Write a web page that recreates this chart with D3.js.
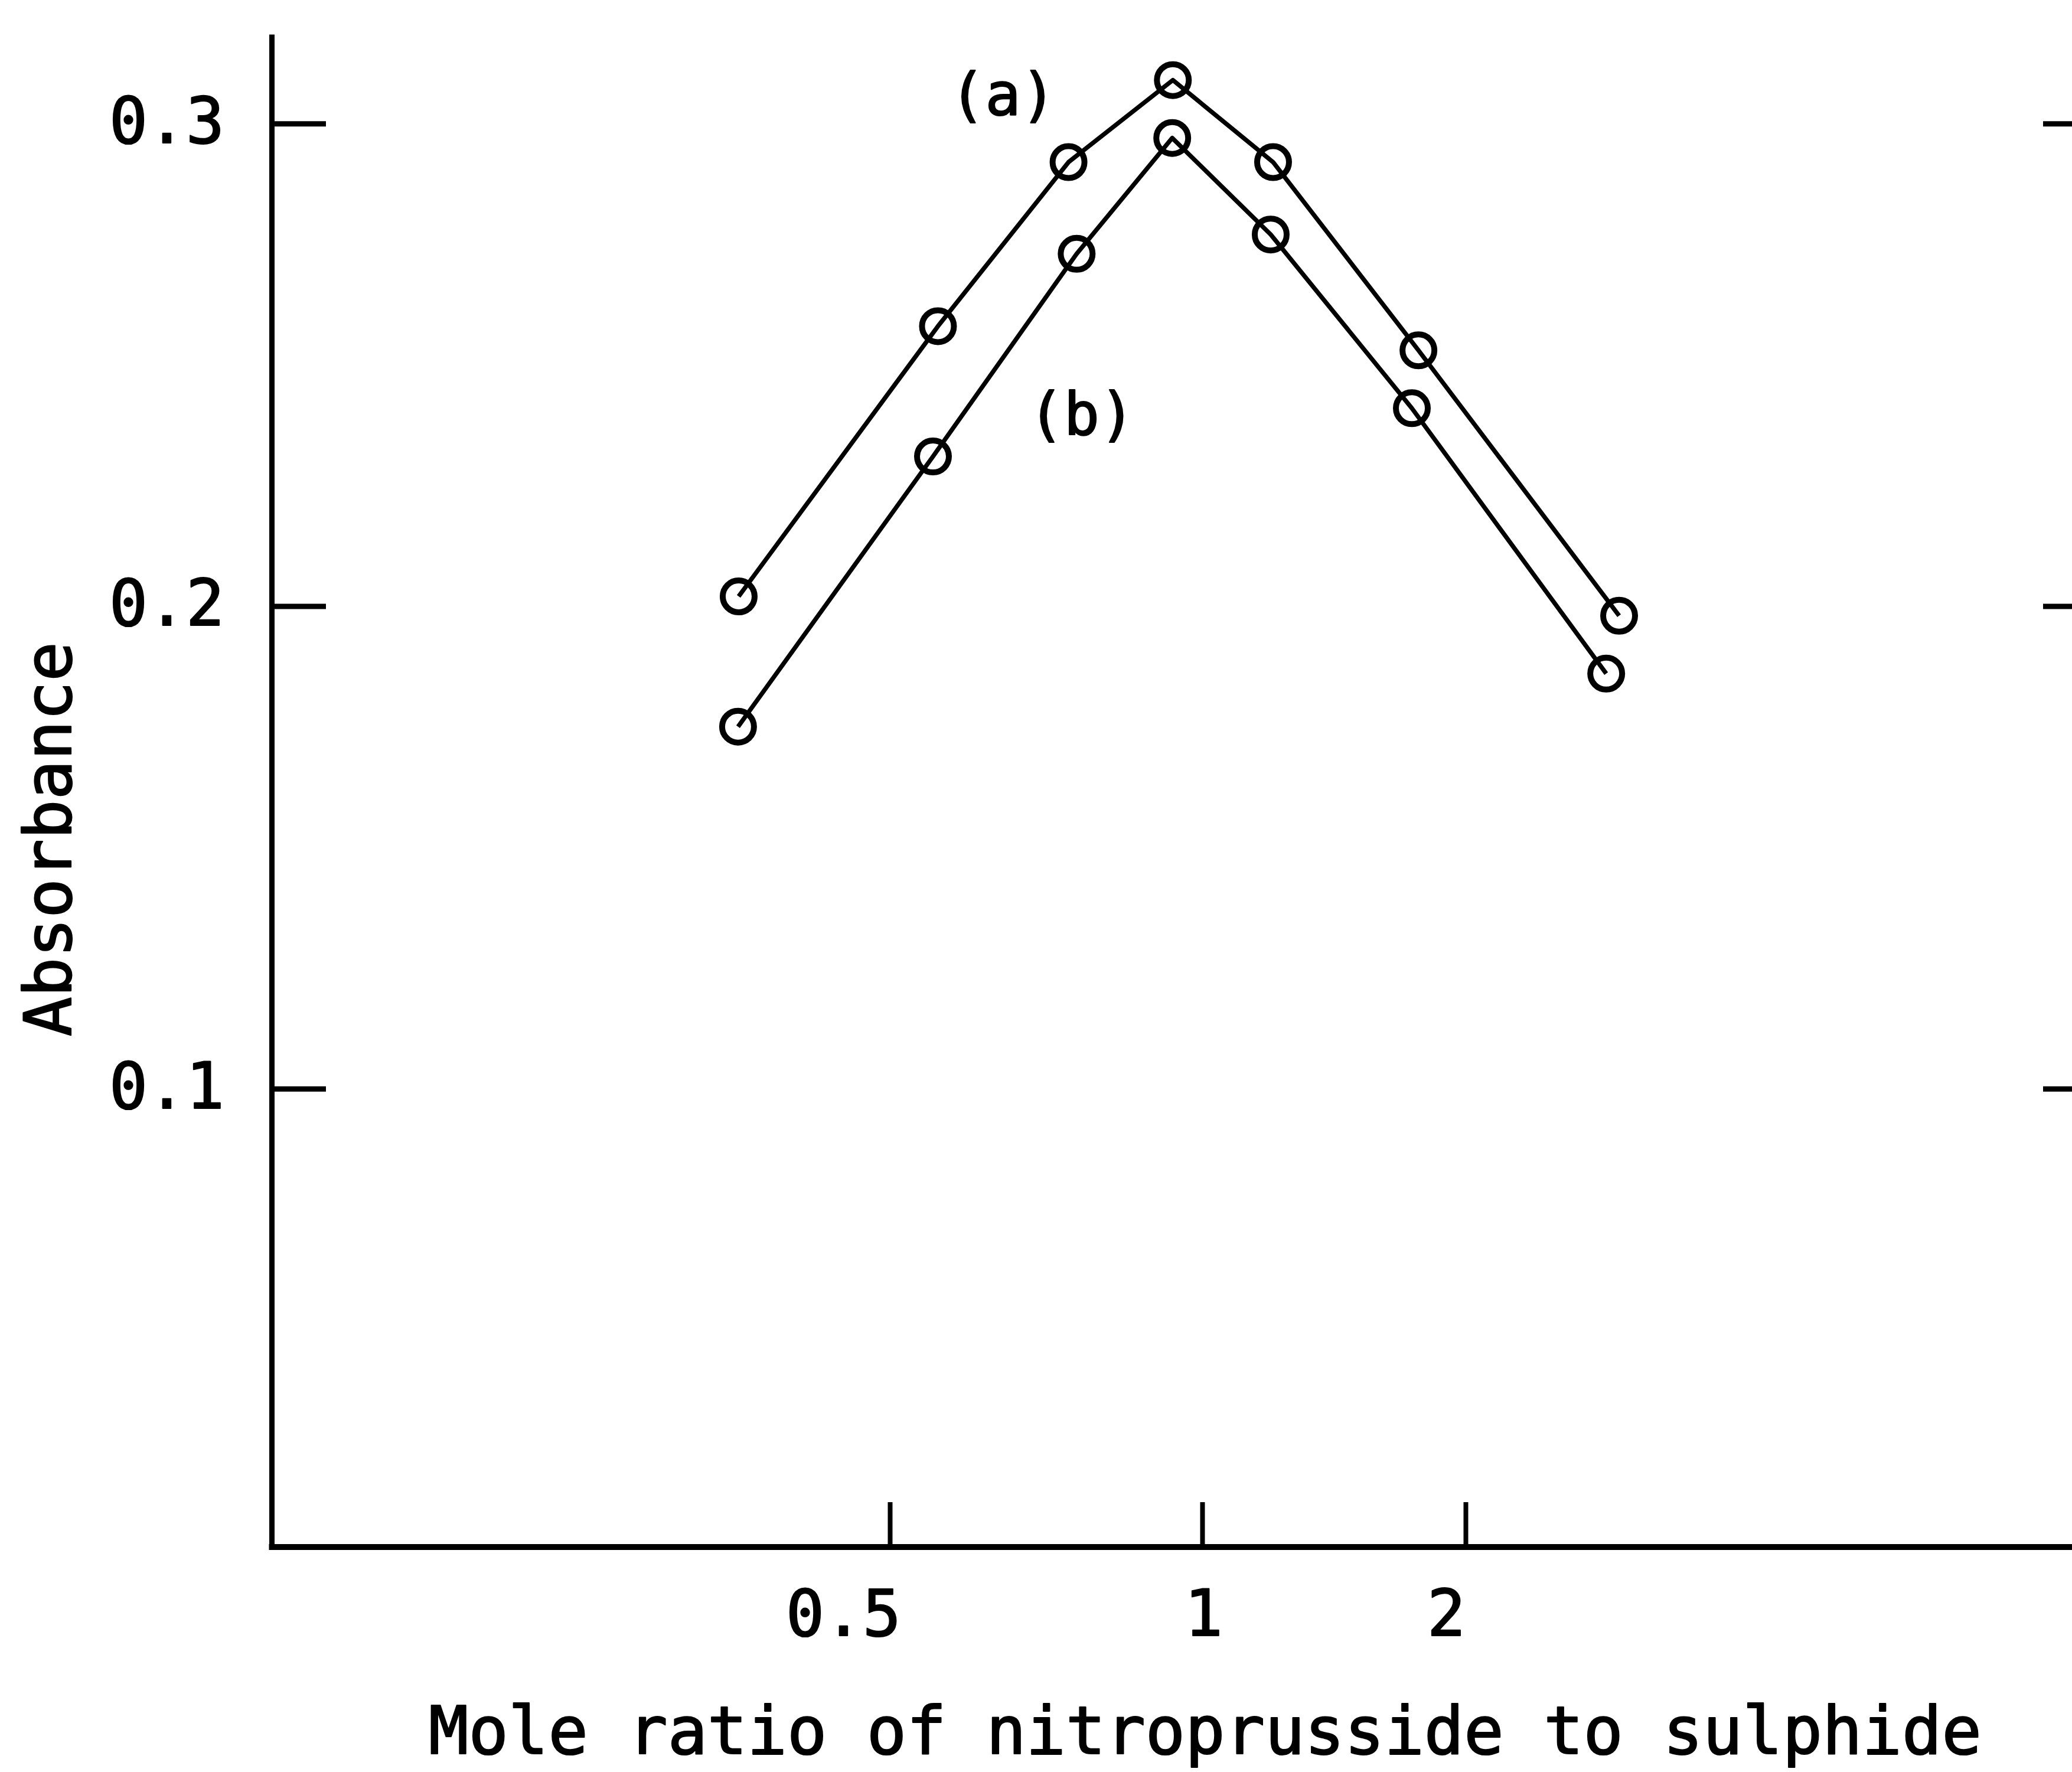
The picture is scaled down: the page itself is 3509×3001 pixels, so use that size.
<!DOCTYPE html>
<html>
<head>
<meta charset="utf-8">
<script src="https://cdn.jsdelivr.net/npm/d3@7"></script>
<style>
  html, body { margin: 0; padding: 0; background: #fff; }
  svg { display: block; }
</style>
</head>
<body>
<script>
// ---------------- data ----------------
const seriesNames = ["(a)", "(b)"];
const ratioA = [0.258, 0.577, 0.786, 0.953, 1.269, 1.821, 2.583];
const absorbA = [0.202, 0.258, 0.292, 0.309, 0.292, 0.253, 0.198];
const ratioB = [0.257, 0.569, 0.799, 0.952, 1.260, 1.796, 2.534];
const absorbB = [0.175, 0.231, 0.273, 0.297, 0.277, 0.241, 0.186];
const xTickValues = [0.5, 1, 2];
const xTickLabels = ["0.5", "1", "2"];
const yTickValues = [0.1, 0.2, 0.3];
const yTickLabels = ["0.1", "0.2", "0.3"];
const labelPos = { "(a)": [0.681, 0.306], "(b)": [0.807, 0.2397] };
const xTitle = "Mole ratio of nitroprusside to sulphide";
const yTitle = "Absorbance";

// ---------------- layout ----------------
const W = 3509, H = 3001;
const plotLeft = 460, plotRight = 3565, plotTop = 58, plotBottom = 2620;
const FONT = "'DejaVu Sans Mono', 'Liberation Mono', monospace";
const xLabelNudge = { "0.5": -79, "1": 2, "2": -33 };

const svg = d3.select("body").append("svg")
  .attr("width", W).attr("height", H)
  .attr("viewBox", `0 0 ${W} ${H}`);

// polylinear x scale (the reference axis is non-uniform)
const x = d3.scaleLinear().domain([0.5, 1, 2]).range([1507, 2036, 2482]);
const y = d3.scaleLinear().domain([0.005, 0.3185]).range([plotBottom, plotTop]);

function boldText(sel) {
  sel.attr("fill", "#000").attr("stroke", "#000").attr("stroke-width", 2.2)
     .attr("stroke-linejoin", "round");
}

// ---------------- axes ----------------
const yAxis = d3.axisLeft(y)
  .tickValues(yTickValues)
  .tickFormat((d, i) => yTickLabels[i])
  .tickSize(-92).tickSizeOuter(0).tickPadding(80);
const gy = svg.append("g").attr("transform", `translate(${plotLeft},0)`).call(yAxis);
gy.select(".domain").attr("stroke", "#000").attr("stroke-width", 9);
gy.selectAll(".tick line").attr("stroke", "#000").attr("stroke-width", 9);
gy.selectAll(".tick text").attr("font-family", FONT).attr("font-size", 108)
  .attr("dy", "0.30em").call(boldText);

// right axis (mostly off-canvas, only its inward ticks are visible)
const yAxisR = d3.axisRight(y)
  .tickValues(yTickValues).tickFormat("")
  .tickSize(-105).tickSizeOuter(0);
const gyr = svg.append("g").attr("transform", `translate(${plotRight},0)`).call(yAxisR);
gyr.select(".domain").attr("stroke", "#000").attr("stroke-width", 9);
gyr.selectAll(".tick line").attr("stroke", "#000").attr("stroke-width", 9);

const xAxis = d3.axisBottom(x)
  .tickValues(xTickValues)
  .tickFormat((d, i) => xTickLabels[i])
  .tickSize(-76).tickSizeOuter(0).tickPadding(73);
const gx = svg.append("g").attr("transform", `translate(0,${plotBottom})`).call(xAxis);
gx.select(".domain").remove();
gx.append("line")
  .attr("x1", plotLeft - 4.5).attr("x2", plotRight)
  .attr("y1", 0).attr("y2", 0)
  .attr("stroke", "#000").attr("stroke-width", 10);
gx.selectAll(".tick line").attr("stroke", "#000").attr("stroke-width", 8);
gx.selectAll(".tick text").attr("font-family", FONT).attr("font-size", 108)
  .attr("dx", (d, i) => xLabelNudge[xTickLabels[i]] || 0).call(boldText);

// axis titles
svg.append("text")
  .attr("x", 2041).attr("y", 2970)
  .attr("text-anchor", "middle")
  .attr("font-family", FONT).attr("font-size", 112)
  .text(xTitle).call(boldText);

svg.append("text")
  .attr("transform", "translate(120,1421) rotate(-90)")
  .attr("text-anchor", "middle")
  .attr("font-family", FONT).attr("font-size", 111)
  .text(yTitle).call(boldText);

// ---------------- series ----------------
const series = [
  { name: seriesNames[0], pts: ratioA.map((r, i) => [r, absorbA[i]]) },
  { name: seriesNames[1], pts: ratioB.map((r, i) => [r, absorbB[i]]) }
];
const line = d3.line().x(d => x(d[0])).y(d => y(d[1]));

const gs = svg.append("g").selectAll("g.series").data(series).join("g").attr("class", "series");
gs.append("path")
  .attr("d", d => line(d.pts))
  .attr("fill", "none").attr("stroke", "#000").attr("stroke-width", 7.5)
  .attr("stroke-linejoin", "round");
gs.selectAll("circle").data(d => d.pts).join("circle")
  .attr("cx", d => x(d[0])).attr("cy", d => y(d[1]))
  .attr("r", 27)
  .attr("fill", "none").attr("stroke", "#000").attr("stroke-width", 10);

// series labels
svg.append("g").selectAll("text").data(seriesNames).join("text")
  .attr("x", d => x(labelPos[d][0]))
  .attr("y", d => y(labelPos[d][1]))
  .attr("text-anchor", "middle").attr("dominant-baseline", "central")
  .attr("font-family", FONT).attr("font-size", 100)
  .text(d => d).call(boldText);
</script>
</body>
</html>
